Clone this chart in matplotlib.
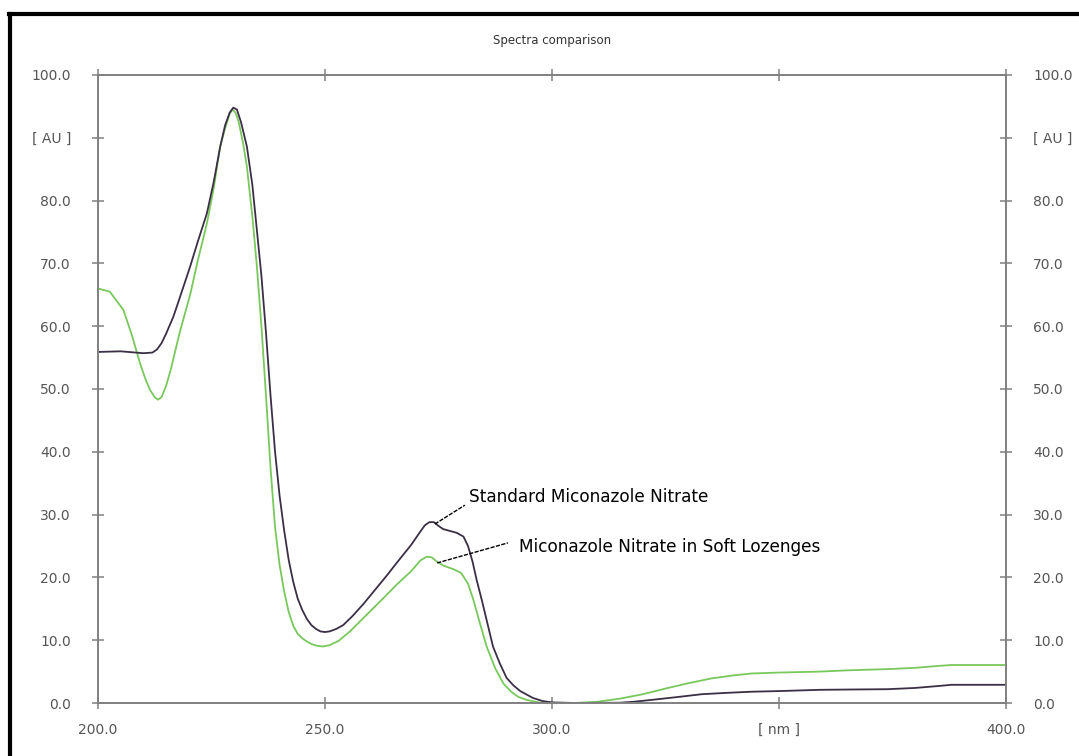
import numpy as np
import matplotlib
matplotlib.use("Agg")
import matplotlib.pyplot as plt
from matplotlib.lines import Line2D

# wavelength (nm) / absorbance (AU)
std_nm = [200, 205, 210, 212, 213, 214, 215, 216.6, 218, 220.3, 222, 224, 225.5, 226.9, 228,
          229, 229.8, 230.6, 231.5, 232.8, 234, 235, 236, 237, 238, 239, 240, 241, 242,
          243, 244, 245, 246, 247, 248, 249, 250, 251, 252.5, 254, 256, 258.5, 261, 263.5, 266, 269,
          271, 272, 273, 274, 275, 276, 277.5, 279, 280.5, 281.5, 282.5, 283.4, 284.5,
          285.5, 287, 288.5, 290, 291.5, 293, 295.8, 298, 300, 305, 315, 318, 322, 327,
          333, 338, 344, 350, 359, 366, 374, 380, 385, 388, 400]
std_au = [55.9, 56.0, 55.7, 55.8, 56.3, 57.3, 58.8, 61.5, 64.5, 69.5, 73.5, 78.0, 83.0, 88.5, 92.0,
          94.0, 94.8, 94.5, 92.5, 88.6, 82.5, 75.3, 68.0, 59.0, 49.0, 40.0, 33.0, 27.5, 22.8,
          19.3, 16.6, 14.8, 13.4, 12.4, 11.8, 11.4, 11.3, 11.4, 11.8, 12.4, 13.8, 15.8, 18.0, 20.2, 22.5, 25.2,
          27.3, 28.3, 28.8, 28.8, 28.2, 27.7, 27.4, 27.1, 26.5, 25.0, 22.5, 19.6, 16.5,
          13.5, 9.0, 6.3, 4.0, 2.8, 1.9, 0.8, 0.3, 0.1, 0.0, 0.05, 0.2, 0.5, 0.9,
          1.4, 1.6, 1.8, 1.9, 2.1, 2.15, 2.2, 2.4, 2.7, 2.9, 2.9]

smp_nm = [200, 202.6, 205.6, 207.5, 209.3, 210.5, 211.5, 212.5, 213.2, 214, 215, 216, 217, 218,
          220.3, 222, 224, 225.5, 226.9, 228, 229, 229.6, 230.3, 231, 232, 232.8, 234, 235,
          236, 237, 238, 239, 240, 241, 242, 243, 244, 245, 246, 247, 248, 249.5, 251, 253,
          255.5, 258, 263, 266, 269, 271, 272.4, 273.5, 274.5, 276, 278.3, 280, 281.5, 282.7, 284,
          285.6, 287.5, 289.3, 291, 292.5, 294.4, 297, 300, 305, 310, 315, 320, 325, 329.7,
          335, 340, 344, 350, 359, 365, 374, 380, 385, 388, 400]
smp_au = [66.0, 65.5, 62.6, 58.5, 54.0, 51.5, 49.8, 48.7, 48.3, 48.7, 50.5, 53.0, 56.0, 59.0,
          65.0, 70.5, 76.4, 82.0, 88.6, 91.5, 93.8, 94.5, 94.0, 92.5, 89.0, 85.4, 77.5, 69.5,
          60.0, 49.0, 37.5, 28.0, 22.0, 17.8, 14.5, 12.3, 11.0, 10.3, 9.8, 9.4, 9.15, 9.0, 9.2, 9.9,
          11.4, 13.2, 16.8, 19.0, 21.0, 22.7, 23.3, 23.2, 22.6, 21.9, 21.3, 20.7, 19.0, 16.4, 13.0,
          9.0, 5.5, 3.1, 1.8, 1.0, 0.5, 0.1, 0.0, 0.0, 0.2, 0.7, 1.4, 2.3, 3.1,
          3.9, 4.4, 4.7, 4.85, 5.0, 5.2, 5.4, 5.6, 5.9, 6.05, 6.05]

x_ticks = [200, 250, 300, 350, 400]
x_labels = ["200.0", "250.0", "300.0", "[ nm ]", "400.0"]
y_ticks = [0, 10, 20, 30, 40, 50, 60, 70, 80, 90, 100]
y_labels = ["0.0", "10.0", "20.0", "30.0", "40.0", "50.0", "60.0", "70.0", "80.0", "[ AU ]", "100.0"]

plt.rcParams['font.family'] = ['DejaVu Sans']

fig = plt.figure(figsize=(10.79, 7.56), dpi=100)
ax = fig.add_axes([0.0908, 0.0701, 0.8416, 0.8307])

ax.plot(smp_nm, smp_au, color="#78c85c", lw=1.3)
ax.plot(std_nm, std_au, color="#3b2f46", lw=1.3)

ax.set_xlim(200, 400)
ax.set_ylim(0, 100)
ax.set_xticks(x_ticks)
ax.set_xticklabels(x_labels)
ax.set_yticks(y_ticks)
ax.set_yticklabels(y_labels)

axis_grey = "#808080"
for s in ax.spines.values():
    s.set_color(axis_grey)
    s.set_linewidth(1.4)
ax.tick_params(axis="both", which="both", direction="inout", length=9, width=1.1,
               color=axis_grey, labelcolor="#555555", labelsize=10,
               top=True, right=True, labelright=True)
ax.tick_params(axis="y", pad=15)
ax.tick_params(axis="x", pad=10)

ax.set_title("Spectra comparison", fontsize=8.5, color="#333333", pad=22)

# callouts for the two traces: dashed leader plus label
dash = (0, (3, 1))
ax.plot([274.2, 280.8], [28.5, 31.5], color="black", lw=1, ls=dash)
ax.text(281.7, 32.8, "Standard Miconazole Nitrate", fontsize=12.2, color="black",
        va="center", ha="left")
ax.plot([274.7, 290.3], [22.3, 25.5], color="black", lw=1, ls=dash)
ax.text(292.7, 24.8, "Miconazole Nitrate in Soft Lozenges", fontsize=12.2, color="black",
        va="center", ha="left")

# frame edges along the top and left of the figure
fig.add_artist(Line2D([9 / 1079, 1.0], [1 - 14 / 756, 1 - 14 / 756], color="black", lw=3))
fig.add_artist(Line2D([10 / 1079, 10 / 1079], [0.0, 1 - 14 / 756], color="black", lw=3))

fig.savefig("out.png", dpi=100)
